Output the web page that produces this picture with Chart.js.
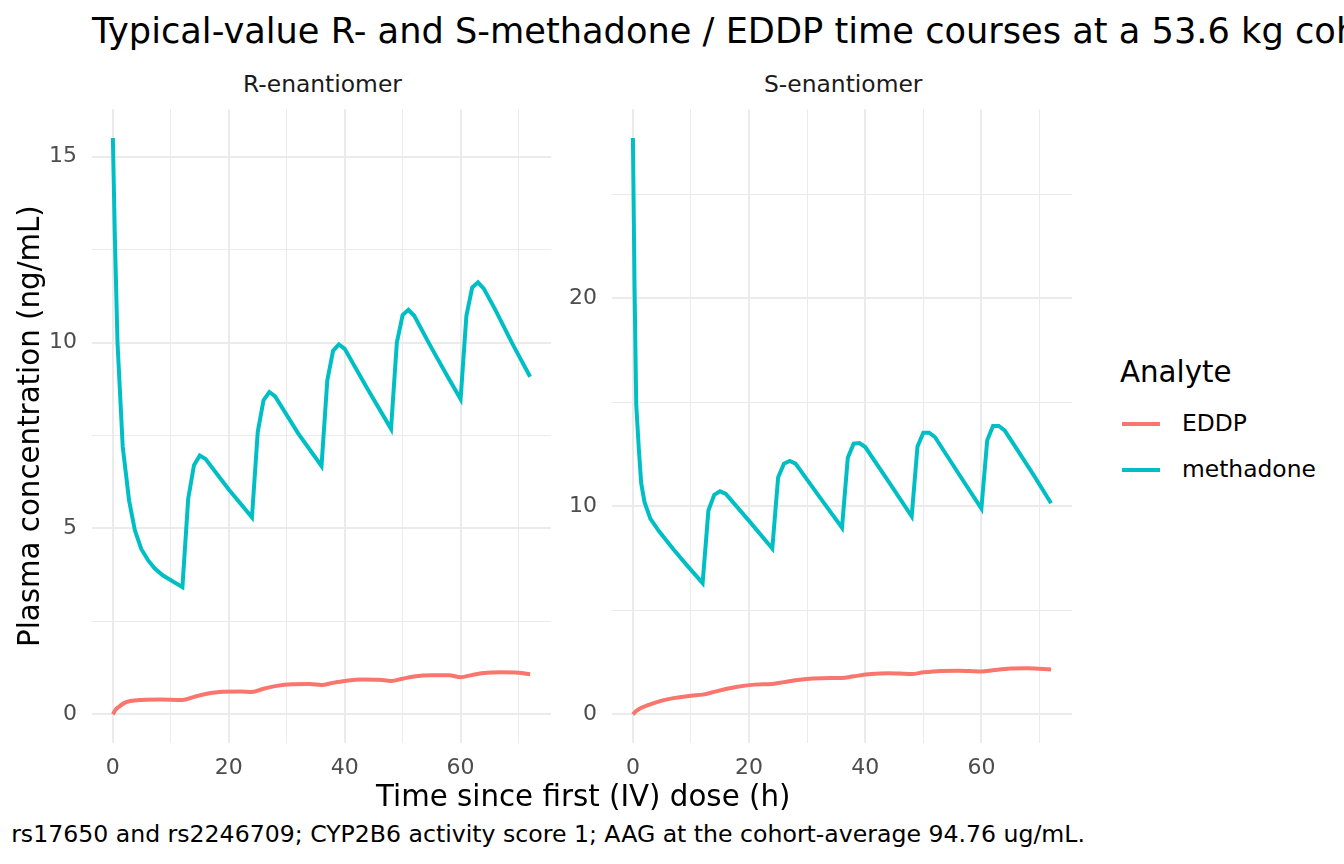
<!DOCTYPE html>
<html>
<head>
<meta charset="utf-8">
<script src="https://cdn.jsdelivr.net/npm/chart.js@4"></script>
<style>
  html, body { margin: 0; padding: 0; background: #fff; }
  body { width: 1344px; height: 864px; overflow: hidden; position: relative; font-family: "DejaVu Sans", sans-serif; }
  .txt { position: absolute; white-space: nowrap; line-height: 1; }
  canvas { position: absolute; }
  .key { position: absolute; height: 4px; width: 38px; }
</style>
</head>
<body>
<div class="txt" style="left:92px; top:13px; font-size:35.2px; color:#000;">Typical-value R- and S-methadone / EDDP time courses at a 53.6 kg cohort-average patient</div>
<div class="txt" id="stripR" style="top:73px; font-size:23.4px; color:#1A1A1A;">R-enantiomer</div>
<div class="txt" id="stripS" style="top:73px; font-size:23.4px; color:#1A1A1A;">S-enantiomer</div>

<canvas id="panelR"></canvas>
<canvas id="panelS"></canvas>

<div class="txt" id="xTitle" style="top:782px; font-size:29.3px; color:#000;">Time since first (IV) dose (h)</div>
<div class="txt" id="yTitle" style="font-size:29.3px; color:#000; transform-origin:0 0;">Plasma concentration (ng/mL)</div>
<div class="txt" style="right:259px; top:823px; font-size:23.6px; color:#000;">rs17650 and rs2246709; CYP2B6 activity score 1; AAG at the cohort-average 94.76 ug/mL.</div>

<div class="txt" style="left:1120px; top:358px; font-size:29.3px; color:#000;">Analyte</div>
<div class="key" style="left:1122px; top:422px; background:#F8766D;"></div>
<div class="txt" style="left:1182px; top:412px; font-size:23.4px; color:#000;">EDDP</div>
<div class="key" style="left:1122px; top:468px; background:#00BFC4;"></div>
<div class="txt" style="left:1182px; top:458px; font-size:23.4px; color:#000;">methadone</div>

<script>
// axis ticks (majors get labels, the rest are minor grid lines)
const xTicks = [0, 10, 20, 30, 40, 50, 60, 70];
const xMajors = [0, 20, 40, 60];
const rYTicks = [0, 2.5, 5, 7.5, 10, 12.5, 15];
const rYMajors = [0, 5, 10, 15];
const sYTicks = [0, 5, 10, 15, 20, 25];
const sYMajors = [0, 10, 20];

// R-enantiomer, methadone
const rMethTime = [0, 0.35, 0.8, 1.7, 2.8, 3.8, 4.9, 6.1, 7.2, 8.6, 12, 13, 14, 15, 16, 20, 24, 25, 26, 27, 28, 32, 36, 37, 38, 39, 40, 44, 48, 49, 50, 51, 52, 55, 58, 60, 61, 62, 63, 64, 66, 69, 72];
const rMethConc = [15.5, 12.8, 10.0, 7.2, 5.75, 4.95, 4.45, 4.14, 3.93, 3.74, 3.42, 5.8, 6.7, 6.96, 6.87, 6.05, 5.3, 7.6, 8.45, 8.67, 8.55, 7.55, 6.68, 8.98, 9.78, 9.95, 9.83, 8.74, 7.68, 10.0, 10.74, 10.88, 10.72, 9.85, 9.02, 8.48, 10.72, 11.48, 11.62, 11.45, 10.88, 9.95, 9.08];

// R-enantiomer, EDDP
const rEddpTime = [0, 0.5, 1, 2, 3, 5, 8, 12, 14, 16, 19, 22, 24, 26, 28, 31, 34, 36, 38, 40, 43, 46, 48, 50, 52, 55, 58, 60, 62, 64, 67, 70, 72];
const rEddpConc = [0, 0.13, 0.2, 0.31, 0.36, 0.39, 0.40, 0.39, 0.47, 0.55, 0.61, 0.615, 0.6, 0.69, 0.76, 0.81, 0.815, 0.79, 0.85, 0.9, 0.94, 0.93, 0.9, 0.96, 1.02, 1.05, 1.05, 1.0, 1.06, 1.11, 1.13, 1.12, 1.08];

// S-enantiomer, methadone
const sMethTime = [0, 0.29, 0.57, 1.03, 1.43, 2, 3, 4.5, 7, 9.5, 12, 13, 14, 15, 16, 20, 24, 25, 26, 27, 28, 32, 36, 37, 38, 39, 40, 44, 48, 49, 50, 51, 52, 56, 60, 61, 62, 63, 64, 66, 69, 72];
const sMethConc = [27.7, 20.4, 14.9, 12.7, 11.1, 10.2, 9.41, 8.8, 7.92, 7.1, 6.31, 9.8, 10.55, 10.72, 10.6, 9.3, 7.97, 11.38, 12.05, 12.18, 12.05, 10.5, 8.97, 12.34, 13.01, 13.04, 12.85, 11.2, 9.52, 12.88, 13.54, 13.54, 13.33, 11.6, 9.89, 13.17, 13.86, 13.86, 13.65, 12.8, 11.5, 10.15];

// S-enantiomer, EDDP
const sEddpTime = [0, 0.5, 1, 2, 3, 5, 7, 10, 12, 14, 16, 18, 21, 24, 26, 28, 31, 34, 36, 38, 41, 44, 48, 50, 53, 56, 60, 62, 65, 68, 72];
const sEddpConc = [0, 0.15, 0.25, 0.38, 0.48, 0.66, 0.78, 0.9, 0.95, 1.08, 1.22, 1.33, 1.43, 1.46, 1.55, 1.64, 1.72, 1.75, 1.75, 1.83, 1.94, 1.98, 1.94, 2.02, 2.09, 2.1, 2.06, 2.12, 2.2, 2.22, 2.16];

const EDDP_COL = '#F8766D';
const METH_COL = '#00BFC4';

function pts(ts, vs) {
  return ts.map((t, i) => ({ x: t, y: vs[i] }));
}

// panel geometry (plot area in page pixels)
const AXIS_W = 52, AXIS_H = 44;
const PANEL_TOP = 109, PANEL_BOTTOM = 743;

function place(cv, l, t, w, h) {
  cv.style.left = l + 'px';
  cv.style.top = t + 'px';
  cv.style.width = w + 'px';
  cv.style.height = h + 'px';
}

function makePanel(id, left, right, yMin, yMax, yTicks, yMajors, eddp, meth) {
  const cv = document.getElementById(id);
  const pw = right - left, ph = PANEL_BOTTOM - PANEL_TOP;
  const w = pw + AXIS_W;
  const h = ph + AXIS_H;
  place(cv, left - AXIS_W, PANEL_TOP, w, h);
  cv.width = w;
  cv.height = h;

  const tickFont = { family: 'DejaVu Sans', size: 22 };
  const chart = new Chart(cv.getContext('2d'), {
    type: 'line',
    data: {
      datasets: [
        {
          label: 'EDDP',
          data: eddp,
          borderColor: EDDP_COL,
          borderWidth: 4,
          pointRadius: 0,
          cubicInterpolationMode: 'monotone',
          fill: false
        },
        {
          label: 'methadone',
          data: meth,
          borderColor: METH_COL,
          borderWidth: 4,
          pointRadius: 0,
          tension: 0,
          fill: false
        }
      ]
    },
    options: {
      responsive: false,
      maintainAspectRatio: false,
      animation: false,
      layout: { padding: 0 },
      plugins: { legend: { display: false }, tooltip: { enabled: false } },
      scales: {
        x: {
          type: 'linear',
          min: -3.6,
          max: 75.6,
          afterBuildTicks: s => { s.ticks = xTicks.map(v => ({ value: v })); },
          afterFit: s => { s.height = AXIS_H; },
          grid: {
            color: '#EBEBEB',
            drawTicks: false,
            lineWidth: c => (xMajors.includes(c.tick.value) ? 2 : 1)
          },
          border: { display: false },
          ticks: {
            autoSkip: false,
            maxRotation: 0,
            padding: 12,
            color: '#4D4D4D',
            font: tickFont,
            callback: v => (xMajors.includes(v) ? String(v) : '')
          }
        },
        y: {
          type: 'linear',
          min: yMin,
          max: yMax,
          afterBuildTicks: s => { s.ticks = yTicks.map(v => ({ value: v })); },
          afterFit: s => { s.width = AXIS_W; },
          grid: {
            color: '#EBEBEB',
            drawTicks: false,
            lineWidth: c => (yMajors.includes(c.tick.value) ? 2 : 1)
          },
          border: { display: false },
          ticks: {
            autoSkip: false,
            padding: 15,
            color: '#4D4D4D',
            font: tickFont,
            callback: v => (yMajors.includes(v) ? String(v) : '')
          }
        }
      }
    }
  });

  // the layout may reserve extra room around the plot area; grow the canvas so the
  // plot area lands exactly on the panel rectangle
  const a = chart.chartArea;
  const padL = a.left, padT = a.top, padR = w - a.right, padB = h - a.bottom;
  const nw = pw + padL + padR, nh = ph + padT + padB;
  place(cv, left - padL, PANEL_TOP - padT, nw, nh);
  chart.resize(nw, nh);
  return chart;
}

makePanel('panelR', 92, 553, -0.775, 16.275, rYTicks, rYMajors,
  pts(rEddpTime, rEddpConc), pts(rMethTime, rMethConc));
makePanel('panelS', 612, 1074, -1.385, 29.085, sYTicks, sYMajors,
  pts(sEddpTime, sEddpConc), pts(sMethTime, sMethConc));

// centre the strip labels and axis titles over the panels
function centreX(id, cx) {
  const el = document.getElementById(id);
  el.style.left = (cx - el.offsetWidth / 2) + 'px';
}
centreX('stripR', (92 + 553) / 2);
centreX('stripS', (612 + 1074) / 2);
centreX('xTitle', (92 + 1074) / 2);

const yt = document.getElementById('yTitle');
const ytw = yt.offsetWidth;
yt.style.left = (30 - 14.6) + 'px';
yt.style.top = ((PANEL_TOP + PANEL_BOTTOM) / 2 + ytw / 2) + 'px';
yt.style.transform = 'rotate(-90deg)';
</script>
</body>
</html>
